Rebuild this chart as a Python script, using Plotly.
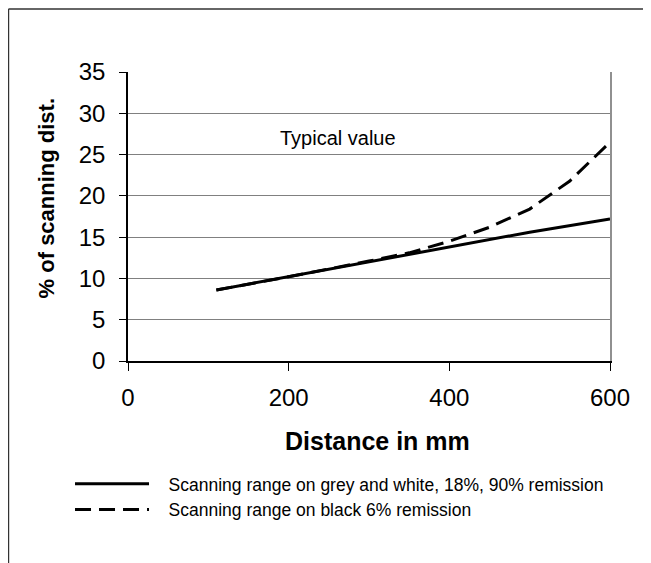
import plotly.graph_objects as go

# Data
x_solid = [110, 200, 300, 400, 500, 600]
y_solid = [8.6, 10.2, 12.0, 13.8, 15.6, 17.2]

x_dashed = [110, 200, 300, 350, 400, 450, 500, 550, 600]
y_dashed = [8.6, 10.2, 12.1, 13.1, 14.5, 16.2, 18.4, 21.8, 26.5]

name_solid = "Scanning range on grey and white, 18%, 90% remission"
name_dashed = "Scanning range on black 6% remission"

x_ticks = [0, 200, 400, 600]
y_ticks = [0, 5, 10, 15, 20, 25, 30, 35]

FONT = "Liberation Sans, Arial, Helvetica, sans-serif"
PAD = "\u00a0\u00a0\u00a0"

fig = go.Figure()
fig.add_trace(go.Scatter(x=x_solid, y=y_solid, mode="lines", name=PAD + name_solid,
                         line=dict(color="black", width=3)))
fig.add_trace(go.Scatter(x=x_dashed, y=y_dashed, mode="lines", name=PAD + name_dashed,
                         line=dict(color="black", width=3, dash="16px,8px")))
# invisible trace on a right axis to draw the grey right border of the plot area
fig.add_trace(go.Scatter(x=[None], y=[None], yaxis="y2", showlegend=False, hoverinfo="skip"))

fig.update_layout(
    width=651, height=563,
    margin=dict(l=120, r=49, t=64, b=210),
    paper_bgcolor="white", plot_bgcolor="white",
    font=dict(family=FONT, color="black"),
    showlegend=True,
    legend=dict(x=-0.1203, y=-0.363, xanchor="left", yanchor="top",
                font=dict(size=17.5, family=FONT, color="black"),
                itemwidth=74, bgcolor="rgba(0,0,0,0)", tracegroupgap=0),
    xaxis=dict(range=[0, 600], tickvals=x_ticks, ticks="outside", ticklen=8,
               tickcolor="black", showline=True, linecolor="black", linewidth=1.5,
               showgrid=False, zeroline=False, tickfont=dict(size=24, family=FONT),
               ticklabelstandoff=6),
    yaxis=dict(range=[0, 35], tickvals=y_ticks, ticks="outside", ticklen=7,
               tickcolor="black", showline=True, linecolor="black", linewidth=1.5,
               showgrid=True, gridcolor="#808080", gridwidth=1, zeroline=False,
               tickfont=dict(size=24, family=FONT), ticklabelstandoff=9),
    yaxis2=dict(overlaying="y", side="right", range=[0, 35], showline=True,
                linecolor="#909090", linewidth=1.5, showgrid=False, zeroline=False,
                showticklabels=False, ticks=""),
    annotations=[
        dict(text="Typical value", x=262, y=27, xref="x", yref="y", showarrow=False,
             font=dict(size=20, family=FONT, color="black")),
        dict(text="<b>Distance in mm</b>", x=0.518, y=-0.276, xref="paper", yref="paper",
             xanchor="center", yanchor="middle", showarrow=False,
             font=dict(size=25, family=FONT, color="black")),
        dict(text="<b>% of scanning dist.</b>", x=-0.1687, y=0.5615, xref="paper", yref="paper",
             xanchor="center", yanchor="middle", textangle=-90, showarrow=False,
             font=dict(size=22, family=FONT, color="black")),
    ],
    shapes=[
        dict(type="line", xref="paper", yref="paper", x0=-0.248, x1=1.2, y0=1.218, y1=1.218,
             line=dict(color="#333333", width=1.5)),
        dict(type="line", xref="paper", yref="paper", x0=-0.248, x1=-0.248, y0=1.218, y1=-0.75,
             line=dict(color="#333333", width=1.5)),
    ],
)

fig.write_html("out.html")
